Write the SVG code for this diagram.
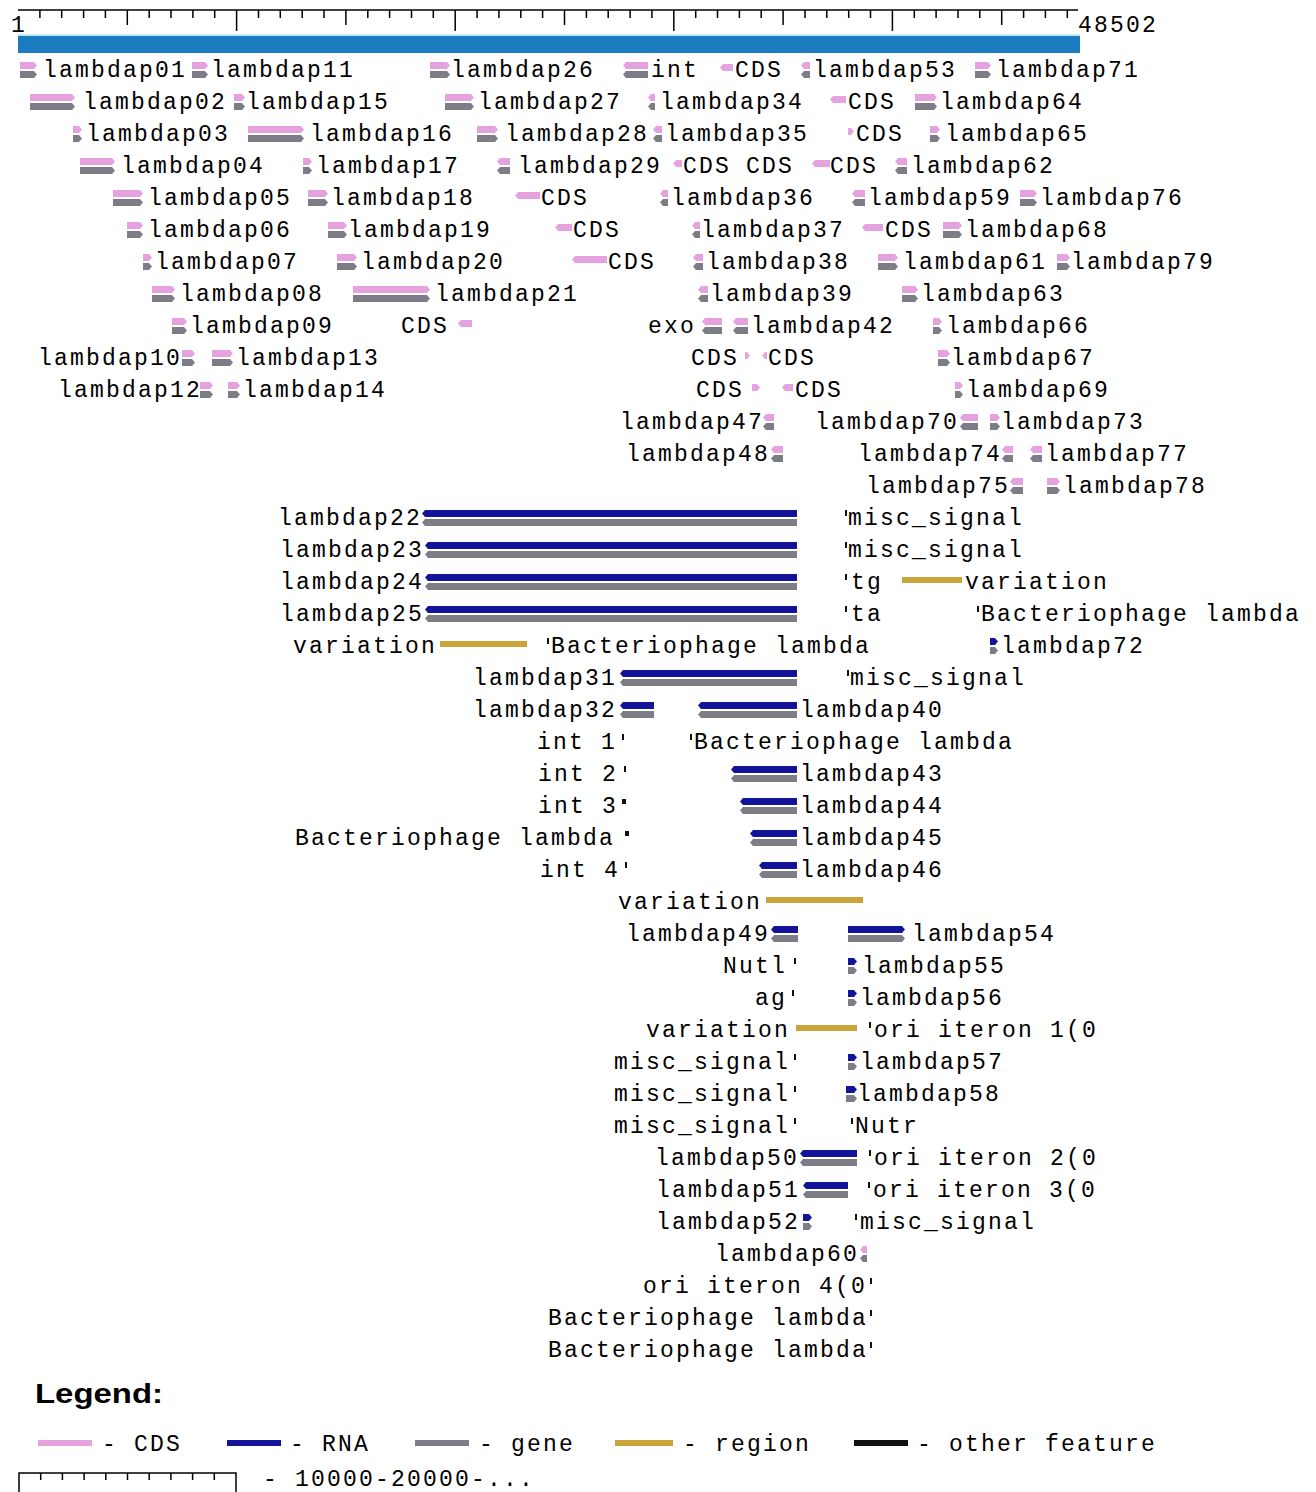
<svg xmlns="http://www.w3.org/2000/svg" width="1316" height="1492" viewBox="0 0 1316 1492">
<style>
.t{font-family:"Liberation Mono","DejaVu Sans Mono",monospace;font-size:23px;letter-spacing:2.2px;fill:#000}
.cds{fill:#e6a2de}
.gene{fill:#7d7d88}
.rna{fill:#14149a}
.reg{fill:#c9a43a}
.oth{fill:#111}
.rul{stroke:#000;stroke-width:1.5;fill:none}
</style>
<rect width="1316" height="1492" fill="#fff"/>
<g id="ruler">
<path class="rul" d="M18 10H1078"/>
<path class="rul" d="M39.9 10V18M61.7 10V18M83.6 10V18M105.4 10V18M149.2 10V18M171 10V18M192.9 10V18M214.7 10V18M258.5 10V18M280.3 10V18M302.2 10V18M324 10V18M367.8 10V18M389.6 10V18M411.5 10V18M433.3 10V18M477.1 10V18M498.9 10V18M520.8 10V18M542.6 10V18M586.4 10V18M608.2 10V18M630.1 10V18M651.9 10V18M695.7 10V18M717.5 10V18M739.4 10V18M761.2 10V18M805 10V18M826.8 10V18M848.7 10V18M870.5 10V18M914.3 10V18M936.1 10V18M958 10V18M979.8 10V18M1023.6 10V18M1045.4 10V18M1067.3 10V18"/>
<path class="rul" d="M127.3 10V25M345.9 10V25M564.5 10V25M783.1 10V25M1001.7 10V25"/>
<path class="rul" d="M236.6 10V31M455.2 10V31M673.8 10V31M892.4 10V31"/>
<text class="t" x="11" y="32">1</text>
<text class="t" x="1078" y="32">48502</text>
</g>
<g id="sequence">
<rect x="18" y="34" width="1062" height="2" fill="#c4e8f6"/>
<rect x="18" y="36" width="1062" height="17" fill="#1a7bc1"/>
</g>
<g id="connectors"></g>

<!-- Row 1 -->
<g id="lambdap01"><g transform="translate(20,70)"><path class="cds" d="M0-8H14L17-4.5L14-1H0Z"/><path class="gene" d="M0 1H14L17 4.5L14 8H0Z"/></g><text class="t" x="43" y="77">lambdap01</text></g>
<g id="lambdap11"><g transform="translate(192,70)"><path class="cds" d="M0-8H13L16-4.5L13-1H0Z"/><path class="gene" d="M0 1H13L16 4.5L13 8H0Z"/></g><text class="t" x="211" y="77">lambdap11</text></g>
<g id="lambdap26"><g transform="translate(430,70)"><path class="cds" d="M0-8H17L20-4.5L17-1H0Z"/><path class="gene" d="M0 1H17L20 4.5L17 8H0Z"/></g><text class="t" x="451" y="77">lambdap26</text></g>
<g id="int"><g transform="translate(623,70)"><path class="cds" d="M25-8H3L0-4.5L3-1H25Z"/><path class="gene" d="M25 1H3L0 4.5L3 8H25Z"/></g><text class="t" x="651" y="77">int</text></g>
<g id="cds-r1"><g transform="translate(720,70)"><path class="cds" d="M13-6H3L0-2.5L3 1H13Z"/></g><text class="t" x="735" y="77">CDS</text></g>
<g id="lambdap53"><g transform="translate(801,70)"><path class="cds" d="M9-8H3L0-4.5L3-1H9Z"/><path class="gene" d="M9 1H3L0 4.5L3 8H9Z"/></g><text class="t" x="813" y="77">lambdap53</text></g>
<g id="lambdap71"><g transform="translate(975,70)"><path class="cds" d="M0-8H13L16-4.5L13-1H0Z"/><path class="gene" d="M0 1H13L16 4.5L13 8H0Z"/></g><text class="t" x="996" y="77">lambdap71</text></g>

<!-- Row 2 -->
<g id="lambdap02"><g transform="translate(30,102)"><path class="cds" d="M0-8H42L45-4.5L42-1H0Z"/><path class="gene" d="M0 1H42L45 4.5L42 8H0Z"/></g><text class="t" x="83" y="109">lambdap02</text></g>
<g id="lambdap15"><g transform="translate(234,102)"><path class="cds" d="M0-8H8L11-4.5L8-1H0Z"/><path class="gene" d="M0 1H8L11 4.5L8 8H0Z"/></g><text class="t" x="246" y="109">lambdap15</text></g>
<g id="lambdap27"><g transform="translate(445,102)"><path class="cds" d="M0-8H26L29-4.5L26-1H0Z"/><path class="gene" d="M0 1H26L29 4.5L26 8H0Z"/></g><text class="t" x="478" y="109">lambdap27</text></g>
<g id="lambdap34"><g transform="translate(648,102)"><path class="cds" d="M7-8H3L0-4.5L3-1H7Z"/><path class="gene" d="M7 1H3L0 4.5L3 8H7Z"/></g><text class="t" x="660" y="109">lambdap34</text></g>
<g id="cds-r2"><g transform="translate(830,102)"><path class="cds" d="M16-6H3L0-2.5L3 1H16Z"/></g><text class="t" x="848" y="109">CDS</text></g>
<g id="lambdap64"><g transform="translate(915,102)"><path class="cds" d="M0-8H19L22-4.5L19-1H0Z"/><path class="gene" d="M0 1H19L22 4.5L19 8H0Z"/></g><text class="t" x="940" y="109">lambdap64</text></g>

<!-- Row 3 -->
<g id="lambdap03"><g transform="translate(73,134)"><path class="cds" d="M0-8H6L9-4.5L6-1H0Z"/><path class="gene" d="M0 1H6L9 4.5L6 8H0Z"/></g><text class="t" x="86" y="141">lambdap03</text></g>
<g id="lambdap16"><g transform="translate(248,134)"><path class="cds" d="M0-8H53L56-4.5L53-1H0Z"/><path class="gene" d="M0 1H53L56 4.5L53 8H0Z"/></g><text class="t" x="310" y="141">lambdap16</text></g>
<g id="lambdap28"><g transform="translate(477,134)"><path class="cds" d="M0-8H18L21-4.5L18-1H0Z"/><path class="gene" d="M0 1H18L21 4.5L18 8H0Z"/></g><text class="t" x="505" y="141">lambdap28</text></g>
<g id="lambdap35"><g transform="translate(653,134)"><path class="cds" d="M9-8H3L0-4.5L3-1H9Z"/><path class="gene" d="M9 1H3L0 4.5L3 8H9Z"/></g><text class="t" x="665" y="141">lambdap35</text></g>
<g id="cds-r3"><g transform="translate(848,134)"><path class="cds" d="M0-6H3L6-2.5L3 1H0Z"/></g><text class="t" x="856" y="141">CDS</text></g>
<g id="lambdap65"><g transform="translate(930,134)"><path class="cds" d="M0-8H7L10-4.5L7-1H0Z"/><path class="gene" d="M0 1H7L10 4.5L7 8H0Z"/></g><text class="t" x="945" y="141">lambdap65</text></g>

<!-- Row 4 -->
<g id="lambdap04"><g transform="translate(80,166)"><path class="cds" d="M0-8H32L35-4.5L32-1H0Z"/><path class="gene" d="M0 1H32L35 4.5L32 8H0Z"/></g><text class="t" x="121" y="173">lambdap04</text></g>
<g id="lambdap17"><g transform="translate(303,166)"><path class="cds" d="M0-8H6L9-4.5L6-1H0Z"/><path class="gene" d="M0 1H6L9 4.5L6 8H0Z"/></g><text class="t" x="316" y="173">lambdap17</text></g>
<g id="lambdap29"><g transform="translate(497,166)"><path class="cds" d="M13-8H3L0-4.5L3-1H13Z"/><path class="gene" d="M13 1H3L0 4.5L3 8H13Z"/></g><text class="t" x="518" y="173">lambdap29</text></g>
<g id="cds-r4a"><g transform="translate(673,166)"><path class="cds" d="M9-6H3L0-2.5L3 1H9Z"/></g><text class="t" x="683" y="173">CDS</text></g>
<g id="cds-r4b"><text class="t" x="746" y="173">CDS</text></g>
<g id="cds-r4c"><g transform="translate(812,166)"><path class="cds" d="M18-6H3L0-2.5L3 1H18Z"/></g><text class="t" x="830" y="173">CDS</text></g>
<g id="lambdap62"><g transform="translate(895,166)"><path class="cds" d="M12-8H3L0-4.5L3-1H12Z"/><path class="gene" d="M12 1H3L0 4.5L3 8H12Z"/></g><text class="t" x="911" y="173">lambdap62</text></g>

<!-- Row 5 -->
<g id="lambdap05"><g transform="translate(113,198)"><path class="cds" d="M0-8H27L30-4.5L27-1H0Z"/><path class="gene" d="M0 1H27L30 4.5L27 8H0Z"/></g><text class="t" x="148" y="205">lambdap05</text></g>
<g id="lambdap18"><g transform="translate(308,198)"><path class="cds" d="M0-8H17L20-4.5L17-1H0Z"/><path class="gene" d="M0 1H17L20 4.5L17 8H0Z"/></g><text class="t" x="331" y="205">lambdap18</text></g>
<g id="cds-r5"><g transform="translate(515,198)"><path class="cds" d="M25-6H3L0-2.5L3 1H25Z"/></g><text class="t" x="541" y="205">CDS</text></g>
<g id="lambdap36"><g transform="translate(660,198)"><path class="cds" d="M8-8H3L0-4.5L3-1H8Z"/><path class="gene" d="M8 1H3L0 4.5L3 8H8Z"/></g><text class="t" x="671" y="205">lambdap36</text></g>
<g id="lambdap59"><g transform="translate(852,198)"><path class="cds" d="M13-8H3L0-4.5L3-1H13Z"/><path class="gene" d="M13 1H3L0 4.5L3 8H13Z"/></g><text class="t" x="868" y="205">lambdap59</text></g>
<g id="lambdap76"><g transform="translate(1020,198)"><path class="cds" d="M0-8H14L17-4.5L14-1H0Z"/><path class="gene" d="M0 1H14L17 4.5L14 8H0Z"/></g><text class="t" x="1040" y="205">lambdap76</text></g>

<!-- Row 6 -->
<g id="lambdap06"><g transform="translate(127,230)"><path class="cds" d="M0-8H13L16-4.5L13-1H0Z"/><path class="gene" d="M0 1H13L16 4.5L13 8H0Z"/></g><text class="t" x="148" y="237">lambdap06</text></g>
<g id="lambdap19"><g transform="translate(328,230)"><path class="cds" d="M0-8H16L19-4.5L16-1H0Z"/><path class="gene" d="M0 1H16L19 4.5L16 8H0Z"/></g><text class="t" x="348" y="237">lambdap19</text></g>
<g id="cds-r6a"><g transform="translate(555,230)"><path class="cds" d="M17-6H3L0-2.5L3 1H17Z"/></g><text class="t" x="573" y="237">CDS</text></g>
<g id="lambdap37"><g transform="translate(692,230)"><path class="cds" d="M8-8H3L0-4.5L3-1H8Z"/><path class="gene" d="M8 1H3L0 4.5L3 8H8Z"/></g><text class="t" x="701" y="237">lambdap37</text></g>
<g id="cds-r6b"><g transform="translate(862,230)"><path class="cds" d="M21-6H3L0-2.5L3 1H21Z"/></g><text class="t" x="885" y="237">CDS</text></g>
<g id="lambdap68"><g transform="translate(943,230)"><path class="cds" d="M0-8H16L19-4.5L16-1H0Z"/><path class="gene" d="M0 1H16L19 4.5L16 8H0Z"/></g><text class="t" x="965" y="237">lambdap68</text></g>

<!-- Row 7 -->
<g id="lambdap07"><g transform="translate(143,262)"><path class="cds" d="M0-8H6L9-4.5L6-1H0Z"/><path class="gene" d="M0 1H6L9 4.5L6 8H0Z"/></g><text class="t" x="155" y="269">lambdap07</text></g>
<g id="lambdap20"><g transform="translate(337,262)"><path class="cds" d="M0-8H17L20-4.5L17-1H0Z"/><path class="gene" d="M0 1H17L20 4.5L17 8H0Z"/></g><text class="t" x="361" y="269">lambdap20</text></g>
<g id="cds-r7"><g transform="translate(572,262)"><path class="cds" d="M35-6H3L0-2.5L3 1H35Z"/></g><text class="t" x="608" y="269">CDS</text></g>
<g id="lambdap38"><g transform="translate(693,262)"><path class="cds" d="M10-8H3L0-4.5L3-1H10Z"/><path class="gene" d="M10 1H3L0 4.5L3 8H10Z"/></g><text class="t" x="706" y="269">lambdap38</text></g>
<g id="lambdap61"><g transform="translate(878,262)"><path class="cds" d="M0-8H17L20-4.5L17-1H0Z"/><path class="gene" d="M0 1H17L20 4.5L17 8H0Z"/></g><text class="t" x="903" y="269">lambdap61</text></g>
<g id="lambdap79"><g transform="translate(1057,262)"><path class="cds" d="M0-8H10L13-4.5L10-1H0Z"/><path class="gene" d="M0 1H10L13 4.5L10 8H0Z"/></g><text class="t" x="1071" y="269">lambdap79</text></g>

<!-- Row 8 -->
<g id="lambdap08"><g transform="translate(152,294)"><path class="cds" d="M0-8H20L23-4.5L20-1H0Z"/><path class="gene" d="M0 1H20L23 4.5L20 8H0Z"/></g><text class="t" x="180" y="301">lambdap08</text></g>
<g id="lambdap21"><g transform="translate(353,294)"><path class="cds" d="M0-8H74L77-4.5L74-1H0Z"/><path class="gene" d="M0 1H74L77 4.5L74 8H0Z"/></g><text class="t" x="435" y="301">lambdap21</text></g>
<g id="lambdap39"><g transform="translate(698,294)"><path class="cds" d="M10-8H3L0-4.5L3-1H10Z"/><path class="gene" d="M10 1H3L0 4.5L3 8H10Z"/></g><text class="t" x="710" y="301">lambdap39</text></g>
<g id="lambdap63"><g transform="translate(902,294)"><path class="cds" d="M0-8H13L16-4.5L13-1H0Z"/><path class="gene" d="M0 1H13L16 4.5L13 8H0Z"/></g><text class="t" x="921" y="301">lambdap63</text></g>

<!-- Row 9 -->
<g id="lambdap09"><g transform="translate(172,326)"><path class="cds" d="M0-8H12L15-4.5L12-1H0Z"/><path class="gene" d="M0 1H12L15 4.5L12 8H0Z"/></g><text class="t" x="190" y="333">lambdap09</text></g>
<g id="cds-r9"><text class="t" x="401" y="333">CDS</text><g transform="translate(458,326)"><path class="cds" d="M14-6H3L0-2.5L3 1H14Z"/></g></g>
<g id="exo"><text class="t" x="648" y="333">exo</text><g transform="translate(702,326)"><path class="cds" d="M20-8H3L0-4.5L3-1H20Z"/><path class="gene" d="M20 1H3L0 4.5L3 8H20Z"/></g></g>
<g id="lambdap42"><g transform="translate(733,326)"><path class="cds" d="M15-8H3L0-4.5L3-1H15Z"/><path class="gene" d="M15 1H3L0 4.5L3 8H15Z"/></g><text class="t" x="751" y="333">lambdap42</text></g>
<g id="lambdap66"><g transform="translate(933,326)"><path class="cds" d="M0-8H6L9-4.5L6-1H0Z"/><path class="gene" d="M0 1H6L9 4.5L6 8H0Z"/></g><text class="t" x="946" y="333">lambdap66</text></g>

<!-- Row 10 -->
<g id="lambdap10"><text class="t" x="38" y="365">lambdap10</text><g transform="translate(182,358)"><path class="cds" d="M0-8H10L13-4.5L10-1H0Z"/><path class="gene" d="M0 1H10L13 4.5L10 8H0Z"/></g></g>
<g id="lambdap13"><g transform="translate(212,358)"><path class="cds" d="M0-8H18L21-4.5L18-1H0Z"/><path class="gene" d="M0 1H18L21 4.5L18 8H0Z"/></g><text class="t" x="236" y="365">lambdap13</text></g>
<g id="cds-r10a"><text class="t" x="691" y="365">CDS</text><g transform="translate(745,358)"><path class="cds" d="M0-6H2L5-2.5L2 1H0Z"/></g></g>
<g id="cds-r10b"><g transform="translate(762,358)"><path class="cds" d="M5-6H3L0-2.5L3 1H5Z"/></g><text class="t" x="768" y="365">CDS</text></g>
<g id="lambdap67"><g transform="translate(938,358)"><path class="cds" d="M0-8H9L12-4.5L9-1H0Z"/><path class="gene" d="M0 1H9L12 4.5L9 8H0Z"/></g><text class="t" x="951" y="365">lambdap67</text></g>

<!-- Row 11 -->
<g id="lambdap12"><text class="t" x="58" y="397">lambdap12</text><g transform="translate(200,390)"><path class="cds" d="M0-8H10L13-4.5L10-1H0Z"/><path class="gene" d="M0 1H10L13 4.5L10 8H0Z"/></g></g>
<g id="lambdap14"><g transform="translate(228,390)"><path class="cds" d="M0-8H9L12-4.5L9-1H0Z"/><path class="gene" d="M0 1H9L12 4.5L9 8H0Z"/></g><text class="t" x="243" y="397">lambdap14</text></g>
<g id="cds-r11a"><text class="t" x="696" y="397">CDS</text><g transform="translate(752,390)"><path class="cds" d="M0-6H5L8-2.5L5 1H0Z"/></g></g>
<g id="cds-r11b"><g transform="translate(782,390)"><path class="cds" d="M11-6H3L0-2.5L3 1H11Z"/></g><text class="t" x="795" y="397">CDS</text></g>
<g id="lambdap69"><g transform="translate(955,390)"><path class="cds" d="M0-8H5L8-4.5L5-1H0Z"/><path class="gene" d="M0 1H5L8 4.5L5 8H0Z"/></g><text class="t" x="966" y="397">lambdap69</text></g>

<!-- Row 12 -->
<g id="lambdap47"><text class="t" x="620" y="429">lambdap47</text><g transform="translate(763,422)"><path class="cds" d="M11-8H3L0-4.5L3-1H11Z"/><path class="gene" d="M11 1H3L0 4.5L3 8H11Z"/></g></g>
<g id="lambdap70"><text class="t" x="815" y="429">lambdap70</text><g transform="translate(960,422)"><path class="cds" d="M18-8H3L0-4.5L3-1H18Z"/><path class="gene" d="M18 1H3L0 4.5L3 8H18Z"/></g></g>
<g id="lambdap73"><g transform="translate(990,422)"><path class="cds" d="M0-8H7L10-4.5L7-1H0Z"/><path class="gene" d="M0 1H7L10 4.5L7 8H0Z"/></g><text class="t" x="1001" y="429">lambdap73</text></g>

<!-- Row 13 -->
<g id="lambdap48"><text class="t" x="626" y="461">lambdap48</text><g transform="translate(771,454)"><path class="cds" d="M12-8H3L0-4.5L3-1H12Z"/><path class="gene" d="M12 1H3L0 4.5L3 8H12Z"/></g></g>
<g id="lambdap74"><text class="t" x="858" y="461">lambdap74</text><g transform="translate(1002,454)"><path class="cds" d="M11-8H3L0-4.5L3-1H11Z"/><path class="gene" d="M11 1H3L0 4.5L3 8H11Z"/></g></g>
<g id="lambdap77"><g transform="translate(1030,454)"><path class="cds" d="M12-8H3L0-4.5L3-1H12Z"/><path class="gene" d="M12 1H3L0 4.5L3 8H12Z"/></g><text class="t" x="1045" y="461">lambdap77</text></g>

<!-- Row 14 -->
<g id="lambdap75"><text class="t" x="866" y="493">lambdap75</text><g transform="translate(1010,486)"><path class="cds" d="M13-8H3L0-4.5L3-1H13Z"/><path class="gene" d="M13 1H3L0 4.5L3 8H13Z"/></g></g>
<g id="lambdap78"><g transform="translate(1047,486)"><path class="cds" d="M0-8H10L13-4.5L10-1H0Z"/><path class="gene" d="M0 1H10L13 4.5L10 8H0Z"/></g><text class="t" x="1063" y="493">lambdap78</text></g>

<!-- Rows 15-18 -->
<g id="lambdap22"><text class="t" x="278" y="525">lambdap22</text><g transform="translate(422,518)"><path class="rna" d="M375-8H3L0-4.5L3-1H375Z"/><path class="gene" d="M375 1H3L0 4.5L3 8H375Z"/></g></g>
<g id="misc-signal-r15"><rect class="oth" x="845" y="510" width="2" height="6"/><text class="t" x="848" y="525">misc_signal</text></g>
<g id="lambdap23"><text class="t" x="280" y="557">lambdap23</text><g transform="translate(425,550)"><path class="rna" d="M372-8H3L0-4.5L3-1H372Z"/><path class="gene" d="M372 1H3L0 4.5L3 8H372Z"/></g></g>
<g id="misc-signal-r16"><rect class="oth" x="845" y="542" width="2" height="6"/><text class="t" x="848" y="557">misc_signal</text></g>
<g id="lambdap24"><text class="t" x="280" y="589">lambdap24</text><g transform="translate(425,582)"><path class="rna" d="M372-8H3L0-4.5L3-1H372Z"/><path class="gene" d="M372 1H3L0 4.5L3 8H372Z"/></g></g>
<g id="tg"><rect class="oth" x="845" y="574" width="2" height="6"/><text class="t" x="851" y="589">tg</text></g>
<g id="variation-r17"><rect class="reg" x="902" y="577" width="60" height="6"/><text class="t" x="965" y="589">variation</text></g>
<g id="lambdap25"><text class="t" x="280" y="621">lambdap25</text><g transform="translate(425,614)"><path class="rna" d="M372-8H3L0-4.5L3-1H372Z"/><path class="gene" d="M372 1H3L0 4.5L3 8H372Z"/></g></g>
<g id="ta"><rect class="oth" x="845" y="606" width="2" height="6"/><text class="t" x="851" y="621">ta</text></g>
<g id="bacteriophage-r18"><rect class="oth" x="977" y="606" width="2" height="6"/><text class="t" x="981" y="621">Bacteriophage lambda</text></g>

<!-- Row 19 -->
<g id="variation-r19"><text class="t" x="293" y="653">variation</text><rect class="reg" x="440" y="641" width="87" height="6"/></g>
<g id="bacteriophage-r19"><rect class="oth" x="547" y="638" width="2" height="6"/><text class="t" x="551" y="653">Bacteriophage lambda</text></g>
<g id="lambdap72"><g transform="translate(990,646)"><path class="rna" d="M0-8H5L8-4.5L5-1H0Z"/><path class="gene" d="M0 1H5L8 4.5L5 8H0Z"/></g><text class="t" x="1001" y="653">lambdap72</text></g>

<!-- Row 20 -->
<g id="lambdap31"><text class="t" x="473" y="685">lambdap31</text><g transform="translate(620,678)"><path class="rna" d="M177-8H3L0-4.5L3-1H177Z"/><path class="gene" d="M177 1H3L0 4.5L3 8H177Z"/></g></g>
<g id="misc-signal-r20"><rect class="oth" x="847" y="670" width="2" height="6"/><text class="t" x="850" y="685">misc_signal</text></g>

<!-- Row 21 -->
<g id="lambdap32"><text class="t" x="473" y="717">lambdap32</text><g transform="translate(620,710)"><path class="rna" d="M34-8H3L0-4.5L3-1H34Z"/><path class="gene" d="M34 1H3L0 4.5L3 8H34Z"/></g></g>
<g id="lambdap40"><g transform="translate(698,710)"><path class="rna" d="M99-8H3L0-4.5L3-1H99Z"/><path class="gene" d="M99 1H3L0 4.5L3 8H99Z"/></g><text class="t" x="800" y="717">lambdap40</text></g>

<!-- Row 22 -->
<g id="int1"><text class="t" x="537" y="749">int 1</text><rect class="oth" x="622" y="734" width="2" height="6"/></g>
<g id="bacteriophage-r22"><rect class="oth" x="690" y="734" width="2" height="6"/><text class="t" x="694" y="749">Bacteriophage lambda</text></g>

<!-- Row 23 -->
<g id="int2"><text class="t" x="538" y="781">int 2</text><rect class="oth" x="624" y="766" width="2" height="6"/></g>
<g id="lambdap43"><g transform="translate(731,774)"><path class="rna" d="M66-8H3L0-4.5L3-1H66Z"/><path class="gene" d="M66 1H3L0 4.5L3 8H66Z"/></g><text class="t" x="800" y="781">lambdap43</text></g>

<!-- Row 24 -->
<g id="int3"><text class="t" x="538" y="813">int 3</text><rect class="oth" x="622" y="799" width="4" height="5"/></g>
<g id="lambdap44"><g transform="translate(740,806)"><path class="rna" d="M57-8H3L0-4.5L3-1H57Z"/><path class="gene" d="M57 1H3L0 4.5L3 8H57Z"/></g><text class="t" x="800" y="813">lambdap44</text></g>

<!-- Row 25 -->
<g id="bacteriophage-r25"><text class="t" x="295" y="845">Bacteriophage lambda</text><rect class="oth" x="625" y="831" width="4" height="5"/></g>
<g id="lambdap45"><g transform="translate(750,838)"><path class="rna" d="M47-8H3L0-4.5L3-1H47Z"/><path class="gene" d="M47 1H3L0 4.5L3 8H47Z"/></g><text class="t" x="800" y="845">lambdap45</text></g>

<!-- Row 26 -->
<g id="int4"><text class="t" x="540" y="877">int 4</text><rect class="oth" x="625" y="862" width="2" height="6"/></g>
<g id="lambdap46"><g transform="translate(759,870)"><path class="rna" d="M38-8H3L0-4.5L3-1H38Z"/><path class="gene" d="M38 1H3L0 4.5L3 8H38Z"/></g><text class="t" x="800" y="877">lambdap46</text></g>

<!-- Row 27 -->
<g id="variation-r27"><text class="t" x="618" y="909">variation</text><rect class="reg" x="766" y="897" width="97" height="6"/></g>

<!-- Row 28 -->
<g id="lambdap49"><text class="t" x="626" y="941">lambdap49</text><g transform="translate(771,934)"><path class="rna" d="M27-8H3L0-4.5L3-1H27Z"/><path class="gene" d="M27 1H3L0 4.5L3 8H27Z"/></g></g>
<g id="lambdap54"><g transform="translate(848,934)"><path class="rna" d="M0-8H54L57-4.5L54-1H0Z"/><path class="gene" d="M0 1H54L57 4.5L54 8H0Z"/></g><text class="t" x="912" y="941">lambdap54</text></g>

<!-- Row 29 -->
<g id="nutl"><text class="t" x="723" y="973">Nutl</text><rect class="oth" x="794" y="958" width="2" height="6"/></g>
<g id="lambdap55"><g transform="translate(848,966)"><path class="rna" d="M0-8H6L9-4.5L6-1H0Z"/><path class="gene" d="M0 1H6L9 4.5L6 8H0Z"/></g><text class="t" x="862" y="973">lambdap55</text></g>

<!-- Row 30 -->
<g id="ag"><text class="t" x="755" y="1005">ag</text><rect class="oth" x="792" y="990" width="2" height="6"/></g>
<g id="lambdap56"><g transform="translate(848,998)"><path class="rna" d="M0-8H6L9-4.5L6-1H0Z"/><path class="gene" d="M0 1H6L9 4.5L6 8H0Z"/></g><text class="t" x="860" y="1005">lambdap56</text></g>

<!-- Row 31 -->
<g id="variation-r31"><text class="t" x="646" y="1037">variation</text><rect class="reg" x="796" y="1025" width="61" height="6"/></g>
<g id="ori-iteron-1"><rect class="oth" x="869" y="1022" width="2" height="6"/><text class="t" x="874" y="1037">ori iteron 1(0</text></g>

<!-- Row 32 -->
<g id="misc-signal-r32"><text class="t" x="614" y="1069">misc_signal</text><rect class="oth" x="794" y="1054" width="2" height="6"/></g>
<g id="lambdap57"><g transform="translate(848,1062)"><path class="rna" d="M0-8H6L9-4.5L6-1H0Z"/><path class="gene" d="M0 1H6L9 4.5L6 8H0Z"/></g><text class="t" x="860" y="1069">lambdap57</text></g>

<!-- Row 33 -->
<g id="misc-signal-r33"><text class="t" x="614" y="1101">misc_signal</text><rect class="oth" x="794" y="1086" width="2" height="6"/></g>
<g id="lambdap58"><g transform="translate(846,1094)"><path class="rna" d="M0-8H8L11-4.5L8-1H0Z"/><path class="gene" d="M0 1H8L11 4.5L8 8H0Z"/></g><text class="t" x="857" y="1101">lambdap58</text></g>

<!-- Row 34 -->
<g id="misc-signal-r34"><text class="t" x="614" y="1133">misc_signal</text><rect class="oth" x="794" y="1118" width="2" height="6"/></g>
<g id="nutr"><rect class="oth" x="851" y="1118" width="2" height="6"/><text class="t" x="855" y="1133">Nutr</text></g>

<!-- Row 35 -->
<g id="lambdap50"><text class="t" x="655" y="1165">lambdap50</text><g transform="translate(800,1158)"><path class="rna" d="M57-8H3L0-4.5L3-1H57Z"/><path class="gene" d="M57 1H3L0 4.5L3 8H57Z"/></g></g>
<g id="ori-iteron-2"><rect class="oth" x="869" y="1150" width="2" height="6"/><text class="t" x="874" y="1165">ori iteron 2(0</text></g>

<!-- Row 36 -->
<g id="lambdap51"><text class="t" x="656" y="1197">lambdap51</text><g transform="translate(803,1190)"><path class="rna" d="M45-8H3L0-4.5L3-1H45Z"/><path class="gene" d="M45 1H3L0 4.5L3 8H45Z"/></g></g>
<g id="ori-iteron-3"><rect class="oth" x="868" y="1182" width="2" height="6"/><text class="t" x="873" y="1197">ori iteron 3(0</text></g>

<!-- Row 37 -->
<g id="lambdap52"><text class="t" x="656" y="1229">lambdap52</text><g transform="translate(803,1222)"><path class="rna" d="M0-8H6L9-4.5L6-1H0Z"/><path class="gene" d="M0 1H6L9 4.5L6 8H0Z"/></g></g>
<g id="misc-signal-r37"><rect class="oth" x="855" y="1214" width="2" height="6"/><text class="t" x="860" y="1229">misc_signal</text></g>

<!-- Row 38-41 -->
<g id="lambdap60"><text class="t" x="715" y="1261">lambdap60</text><g transform="translate(860,1254)"><path class="cds" d="M7-8H3L0-4.5L3-1H7Z"/><path class="gene" d="M7 1H3L0 4.5L3 8H7Z"/></g></g>
<g id="ori-iteron-4"><text class="t" x="643" y="1293">ori iteron 4(0</text><rect class="oth" x="870" y="1278" width="2" height="6"/></g>
<g id="bacteriophage-r40"><text class="t" x="548" y="1325">Bacteriophage lambda</text><rect class="oth" x="870" y="1310" width="2" height="6"/></g>
<g id="bacteriophage-r41"><text class="t" x="548" y="1357">Bacteriophage lambda</text><rect class="oth" x="870" y="1342" width="2" height="6"/></g>

<!-- Legend -->
<g id="legend">
<text x="35" y="1403" font-family="Liberation Sans, Arial, sans-serif" font-weight="bold" font-size="27" textLength="128" lengthAdjust="spacingAndGlyphs">Legend:</text>
<rect class="cds" x="38" y="1440" width="54" height="6"/>
<text class="t" x="102" y="1451">- CDS</text>
<rect class="rna" x="227" y="1440" width="54" height="6"/>
<text class="t" x="290" y="1451">- RNA</text>
<rect class="gene" x="415" y="1440" width="54" height="6"/>
<text class="t" x="479" y="1451">- gene</text>
<rect class="reg" x="615" y="1440" width="58" height="6"/>
<text class="t" x="683" y="1451">- region</text>
<rect class="oth" x="854" y="1440" width="54" height="6"/>
<text class="t" x="917" y="1451">- other feature</text>
<rect x="19" y="1473" width="217" height="25" fill="none" stroke="#000" stroke-width="1.5"/>
<path class="rul" d="M40.7 1473V1480M62.4 1473V1480M84.1 1473V1480M105.8 1473V1480M127.5 1473V1480M149.2 1473V1480M170.9 1473V1480M192.6 1473V1480M214.3 1473V1480"/>
<text class="t" x="263" y="1486">- 10000-20000-...</text>
</g>
</svg>
